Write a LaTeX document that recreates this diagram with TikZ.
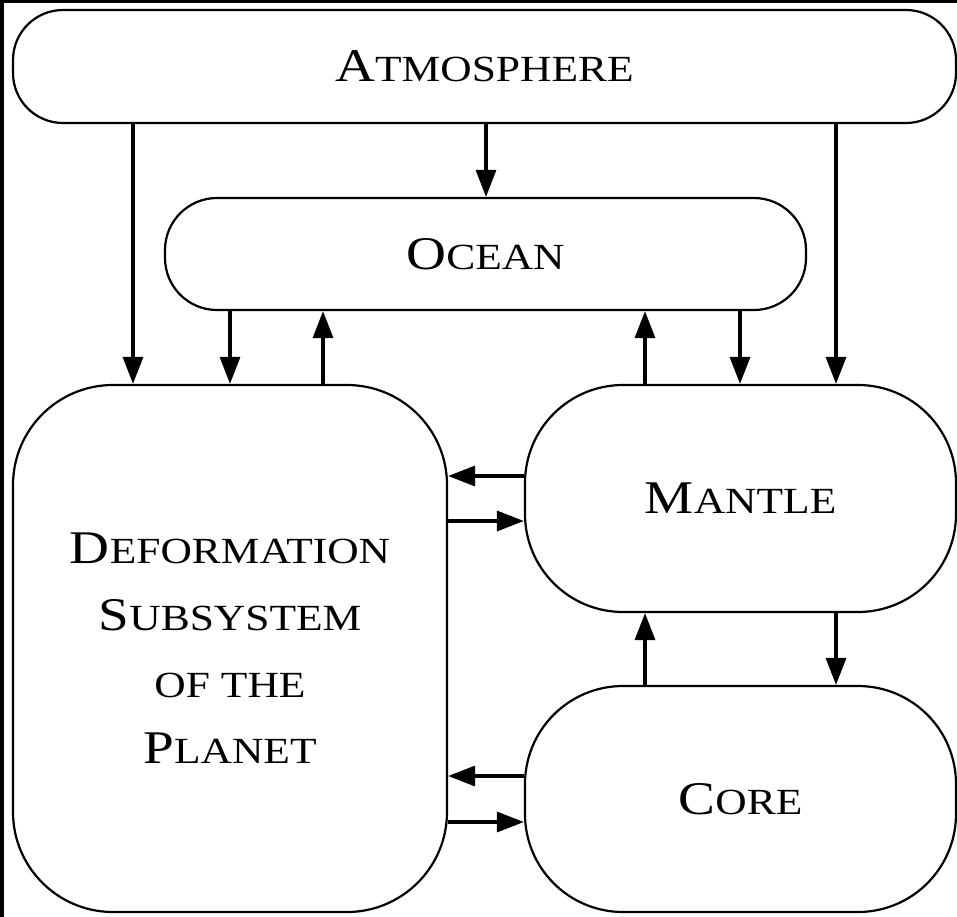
\documentclass[tikz,border=0pt]{standalone}
\usepackage{fontspec}
\usepackage{graphicx}
\setmainfont{Liberation Serif}
\usetikzlibrary{arrows.meta}
\newcommand\capsc[2]{\scalebox{1.18}[1]{{\fontsize{47}{67}\selectfont #1}{\fontsize{37}{67}\selectfont #2}}}
\newcommand\allsc[1]{\scalebox{1.18}[1]{\fontsize{37}{67}\selectfont #1}}
\tikzset{
  box/.style={draw=black, line width=2.2bp, fill=white, inner sep=0pt,
    font=\fontsize{37}{67}\selectfont, align=center},
  arr/.style={line width=3.3bp, -{Triangle[length=27bp,width=20bp]}},
}
\begin{document}
\begin{tikzpicture}[x=1bp,y=-1bp]
\fill[white] (0,0) rectangle (957,917);
\useasboundingbox (0,0) rectangle (957,917);
\fill[black] (0,0) rectangle (4,917);
\fill[black] (0,0) rectangle (957,3);

\node[box, minimum width=943bp, minimum height=113bp, rounded corners=50bp] (atm) at (484.5,66.5) {\capsc{A}{TMOSPHERE}};
\node[box, minimum width=641bp, minimum height=112bp, rounded corners=52bp] (ocean) at (485.5,254) {\capsc{O}{CEAN}};
\node[box, minimum width=434bp, minimum height=527bp, rounded corners=100bp] (def) at (230,648.5)
  {\capsc{D}{EFORMATION}\\\capsc{S}{UBSYSTEM}\\\allsc{OF THE}\\\capsc{P}{LANET}};
\node[box, minimum width=431bp, minimum height=227bp, rounded corners=98bp] (mantle) at (740.5,498.5) {\capsc{M}{ANTLE}};
\node[box, minimum width=431bp, minimum height=226bp, rounded corners=98bp] (core) at (740.5,799) {\capsc{C}{ORE}};

\coordinate (xa) at (133,0);
\coordinate (xb) at (230,0);
\coordinate (xc) at (323,0);
\coordinate (xd) at (486,0);
\coordinate (xe) at (645,0);
\coordinate (xf) at (740,0);
\coordinate (xg) at (836,0);
\coordinate (ya) at (0,476);
\coordinate (yb) at (0,521);
\coordinate (yc) at (0,776);
\coordinate (yd) at (0,822);

\draw[arr] (atm.south -| xa) -- (def.north -| xa);
\draw[arr] (atm.south -| xd) -- (ocean.north -| xd);
\draw[arr] (atm.south -| xg) -- (mantle.north -| xg);
\draw[arr] (ocean.south -| xb) -- (def.north -| xb);
\draw[arr] (def.north -| xc) -- (ocean.south -| xc);
\draw[arr] (mantle.north -| xe) -- (ocean.south -| xe);
\draw[arr] (ocean.south -| xf) -- (mantle.north -| xf);
\draw[arr] (mantle.west |- ya) -- (def.east |- ya);
\draw[arr] (def.east |- yb) -- (mantle.west |- yb);
\draw[arr] (core.west |- yc) -- (def.east |- yc);
\draw[arr] (def.east |- yd) -- (core.west |- yd);
\draw[arr] (core.north -| xe) -- (mantle.south -| xe);
\draw[arr] (mantle.south -| xg) -- (core.north -| xg);
\end{tikzpicture}
\end{document}
